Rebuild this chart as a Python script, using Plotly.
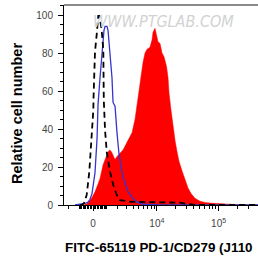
import numpy as np
import plotly.graph_objects as go

# ---- data (x in biexponential display units: 1 unit = 1 decade) ----
red_x = [2.825, 2.889, 2.954, 3.002, 3.051, 3.083, 3.131, 3.180, 3.212, 3.244, 3.276, 3.309,
         3.325, 3.357, 3.405, 3.454, 3.518, 3.567, 3.599, 3.647, 3.680, 3.712, 3.744, 3.776,
         3.809, 3.841, 3.889, 3.922, 3.938, 3.970, 3.994, 4.018, 4.051, 4.083, 4.115, 4.155,
         4.180, 4.196, 4.228, 4.260, 4.293, 4.325, 4.357, 4.405, 4.454, 4.502, 4.551, 4.615,
         4.696, 4.776, 4.905, 5.018, 5.180, 5.341, 5.631]
red_y = [0, 1.0, 4.0, 7, 11, 14, 21, 25, 28, 29, 27.5, 25,
         24, 25.5, 27, 29, 33, 36, 38, 45, 53, 62, 69, 75,
         80, 82, 83, 87, 91, 93, 89.5, 86, 85, 80, 78, 73,
         67, 59, 50, 41, 34, 28, 23, 18, 13, 9, 6, 3.5,
         2, 1.3, 0.9, 0.6, 0.3, 0.1, 0]

blue_x = [2.680, 2.760, 2.841, 2.889, 2.922, 2.954, 3.002, 3.035, 3.051, 3.083, 3.115, 3.147,
          3.164, 3.196, 3.212, 3.244, 3.276, 3.293, 3.325, 3.357, 3.389, 3.438, 3.470, 3.535,
          3.599, 3.680, 3.776, 4.051, 5.631]
blue_y = [0, 0.3, 0.8, 1.5, 3, 6, 17, 35, 53, 67, 81, 92,
          94, 94, 92, 81, 67, 54, 52, 38, 27, 17, 13, 7,
          4, 1.5, 0.4, 0.1, 0]

iso_x = [2.760, 2.793, 2.825, 2.868, 2.910, 2.933, 2.949, 2.975, 2.978, 2.986, 3.002, 3.030,
         3.055, 3.075, 3.110, 3.136, 3.139, 3.144, 3.164, 3.191, 3.244, 3.297, 3.357, 3.405,
         3.567, 3.889, 4.131, 4.373, 4.502, 4.615, 5.631]
iso_y = [0, 0, 1, 5.3, 17.5, 28, 39.5, 50, 56, 67.5, 80.7, 90,
         99.5, 99.5, 92, 81.6, 67.5, 55, 39.5, 28, 17.5, 10.5, 5, 2.6,
         1.7, 1.5, 1.3, 1.2, 0.5, 0, 0]

y_tick_vals = [0, 20, 40, 60, 80, 100]
x_tick_values_raw = [0, 1e4, 1e5]
x_tick_text = ["0", "10<sup>4</sup>", "10<sup>5</sup>"]


def biex(v):
    """display scale: arcsinh-based biexponential (decades)"""
    return 2.97 + np.arcsinh(np.asarray(v, float) / 1883.0) / np.log(10)


minor_raw = ([-2000, -1000] + [-100 * k for k in range(1, 10)] + [100 * k for k in range(1, 10)]
             + [1000 * k for k in range(1, 10)] + [10000 * k for k in range(2, 10)]
             + [100000 * k for k in range(2, 4)])

fig = go.Figure()
fig.add_trace(go.Scatter(x=red_x, y=red_y, mode="lines", fill="tozeroy",
                         fillcolor="#ff0000", line=dict(color="#ff0000", width=0.5),
                         hoverinfo="skip"))
fig.add_trace(go.Scatter(x=blue_x, y=blue_y, mode="lines",
                         line=dict(color="#3535cc", width=1.3), hoverinfo="skip"))
fig.add_trace(go.Scatter(x=iso_x, y=iso_y, mode="lines",
                         line=dict(color="#000000", width=1.8, dash="6px,4px"), hoverinfo="skip"))

fig.update_layout(
    width=258, height=262,
    margin=dict(l=64, r=0, t=5, b=57, autoexpand=False),
    paper_bgcolor="white", plot_bgcolor="white",
    showlegend=False,
    font=dict(family="Liberation Sans, Arial, sans-serif"),
)
fig.update_xaxes(
    range=[2.502, 5.631], showgrid=False, zeroline=False, automargin=False,
    showline=True, linecolor="black", linewidth=1,
    tickmode="array", tickvals=list(biex(x_tick_values_raw)), ticktext=x_tick_text,
    ticks="outside", ticklen=5, tickwidth=1, tickcolor="black",
    tickfont=dict(size=10, color="#444"), ticklabelstandoff=4,
    minor=dict(tickmode="array", tickvals=list(biex(minor_raw)), ticks="outside",
               ticklen=3, tickwidth=1, tickcolor="black"),
)
fig.update_yaxes(
    range=[0, 105.3], showgrid=False, zeroline=False, automargin=False,
    showline=True, linecolor="black", linewidth=1,
    tickmode="array", tickvals=y_tick_vals,
    ticks="outside", ticklen=5, tickwidth=1, tickcolor="black",
    tickfont=dict(size=10, color="#444"), ticklabelstandoff=3,
    minor=dict(dtick=5, tick0=0, ticks="outside", ticklen=3, tickwidth=1, tickcolor="black"),
)

# top frame line
fig.add_shape(type="line", xref="paper", yref="paper", x0=0, x1=1, y0=1, y1=1,
              line=dict(color="#8a8a8a", width=2))

# watermark
fig.add_annotation(text="WWW.PTGLAB.COM", xref="paper", yref="paper", x=0.515, y=0.9175,
                   showarrow=False, xanchor="center", yanchor="middle",
                   font=dict(size=16, color="#d2d2d2", style="italic",
                             family="Liberation Sans Narrow, DejaVu Sans Condensed, Arial"))

# axis titles
fig.add_annotation(text="<b>FITC-65119 PD-1/CD279 (J110</b>", xref="paper", yref="paper",
                   x=0, y=0, xanchor="left", yanchor="middle", xshift=-1, yshift=-42,
                   showarrow=False, font=dict(size=13.4, color="black"))
fig.add_annotation(text="<b>Relative cell number</b>", xref="paper", yref="paper",
                   x=0, y=0.4575, xanchor="center", yanchor="middle", xshift=-47.5,
                   textangle=-90, showarrow=False, font=dict(size=14.5, color="black"))

fig.write_html("out.html", config={"displayModeBar": False},
               post_script="document.body.style.margin='0';document.body.style.overflow='hidden';")
